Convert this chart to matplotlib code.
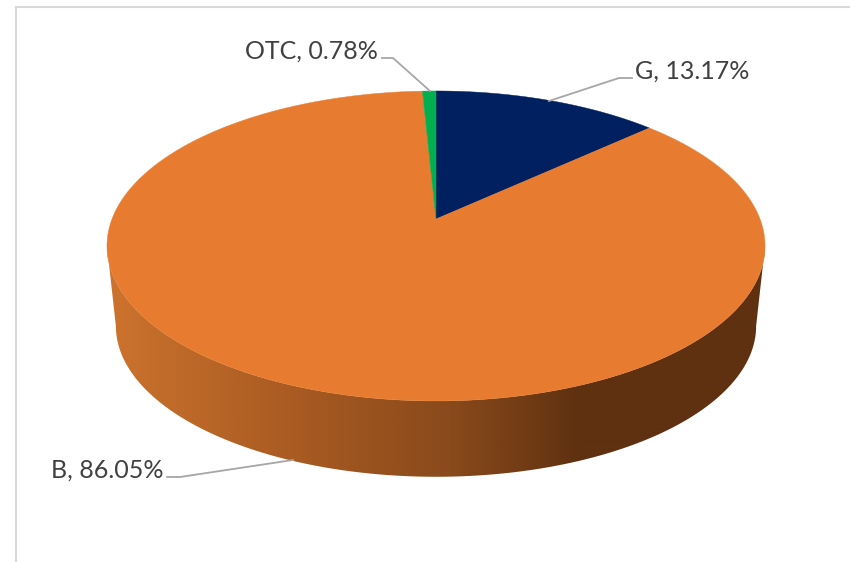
import numpy as np
import matplotlib
matplotlib.use("Agg")
import matplotlib.pyplot as plt
from matplotlib.colors import LinearSegmentedColormap
from matplotlib.patches import Polygon

categories = ["G", "B", "OTC"]
shares = [13.17, 86.05, 0.78]
colors = ["#002060", "#E77C30", "#00B050"]

# perspective of the pie disc, in output pixels
CX, CY, RX, RY, K = 436, 219, 324, 150.3, 0.174
WALL_SCALE, WALL_DROP, MID_Y = 0.973, 80, 246
wall_cmap = LinearSegmentedColormap.from_list(
    "wall", [(0, "#CC732E"), (0.28, "#A95B22"), (0.52, "#8A4A1B"), (0.72, "#5F3110"), (1, "#5F3110")])


def top(theta):
    """theta in degrees clockwise from 12 o'clock -> pixel x, y on the top face."""
    t = np.radians(theta)
    X, Y = np.sin(t), np.cos(t)
    d = 1 + K * Y
    return CX + RX * X / d, CY - RY * Y / d


def bottom(theta):
    x, y = top(theta)
    return CX + (x - CX) * WALL_SCALE, MID_Y + (y - MID_Y) * WALL_SCALE + WALL_DROP


fig = plt.figure(figsize=(8.5, 5.62), dpi=100)
ax = fig.add_axes([0, 0, 1, 1])

# chart frame, cut off by the picture on the right and at the bottom
ax.plot([16, 16, 850], [562, 7, 7], color="#D9D9D9", lw=1.5, solid_joinstyle="miter")

# side wall: a left-to-right gradient clipped to the outline of the rim
angles = np.linspace(100, 260, 161)
xt, yt = top(angles)
xb, yb = bottom(angles)
wall = Polygon(np.r_[np.c_[xt, yt], np.c_[xb, yb][::-1]], fc="none", ec="none")
ax.add_patch(wall)
grad = ax.imshow(np.linspace(0, 1, 658)[None, :], cmap=wall_cmap, aspect="auto",
                 extent=(107, 765, 480, 240), interpolation="bilinear")
grad.set_clip_path(wall)

# top face, wedges clockwise from 12 o'clock
start = 0.0
for share, col in zip(shares, colors):
    end = start + share / sum(shares) * 360
    xs, ys = top(np.linspace(start, end, max(int(share * 8), 8)))
    ax.add_patch(Polygon(np.r_[[[CX, CY]], np.c_[xs, ys]], fc=col, ec=col, lw=0.3))
    start = end

# labels and leader lines
LEADER = dict(color="#A6A6A6", lw=1.3, solid_joinstyle="round")
TEXT = dict(family="Lato", fontsize=18, color="#404040", va="center")
ax.plot([632, 619, 549], [78, 78, 101], **LEADER)
ax.plot([382, 393, 430], [58, 58, 91], **LEADER)
ax.plot([167, 180, 293], [477, 477, 460], **LEADER)
ax.text(635, 71, f"{categories[0]}, {shares[0]:.2f}%", ha="left", **TEXT)
ax.text(51, 470, f"{categories[1]}, {shares[1]:.2f}%", ha="left", **TEXT)
ax.text(378, 51, f"{categories[2]}, {shares[2]:.2f}%", ha="right", **TEXT)

ax.set_xlim(0, 850); ax.set_ylim(562, 0); ax.axis("off")
fig.savefig("out.png", dpi=100)
